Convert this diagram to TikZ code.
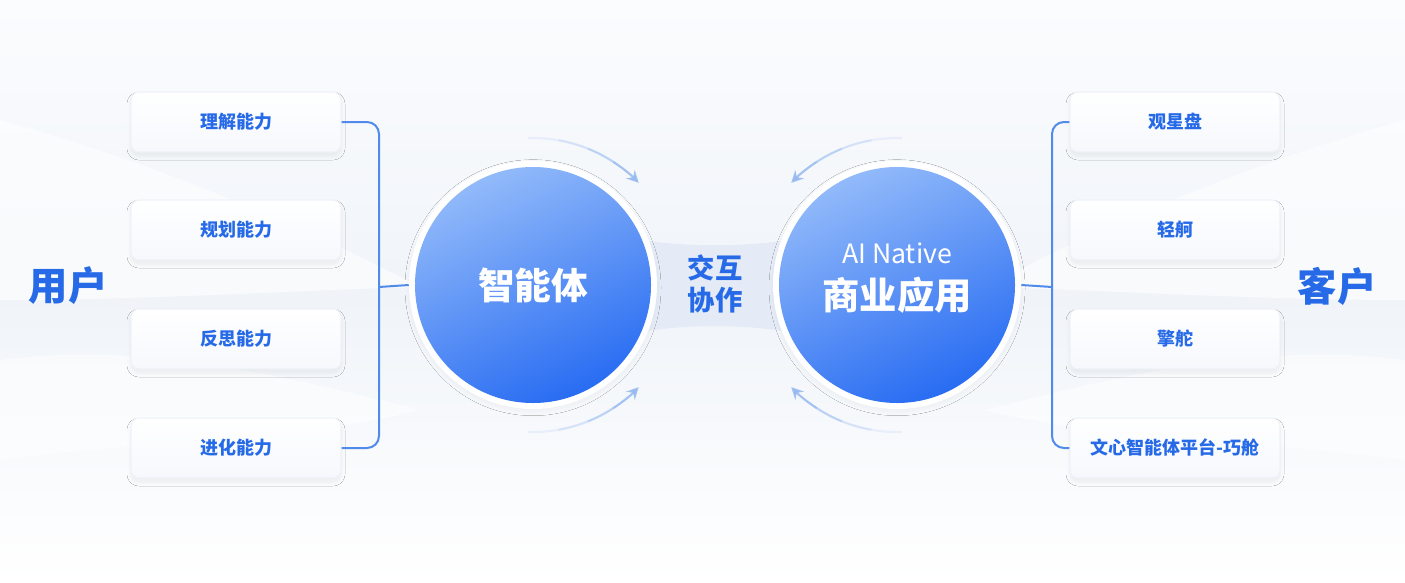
\documentclass[tikz,border=0pt]{standalone}
\usepackage{fontspec}
\newfontfamily\cjk{Noto Sans CJK SC}
\usetikzlibrary{arrows.meta,shadows.blur}

\definecolor{bgLight}{RGB}{251,252,254}
\definecolor{bgMid}{RGB}{240,244,249}
\definecolor{blueText}{RGB}{38,106,232}
\definecolor{bracketBlue}{RGB}{80,139,236}
\definecolor{orbTop}{RGB}{146,186,250}
\definecolor{orbBottom}{RGB}{40,108,242}
\definecolor{arcBlue}{RGB}{150,185,240}
\definecolor{bandGray}{RGB}{228,235,247}
\definecolor{boxBottom}{RGB}{246,248,253}
\definecolor{boxEdge}{RGB}{238,242,248}

\begin{document}
\begin{tikzpicture}[x=0.75pt,y=0.75pt,yscale=-1,xscale=1,
    capbox/.style={draw=boxEdge, line width=0.8, top color=white, bottom color=boxBottom,
        rounded corners=6, minimum width=157.5, minimum height=45,
        font=\cjk\bfseries\fontsize{13.5}{16}\selectfont, text=blueText,
        blur shadow={shadow blur steps=6, shadow opacity=6,
            shadow xshift=0pt, shadow yshift=-3pt, shadow blur radius=3pt}},
    sidelabel/.style={font=\cjk\bfseries\fontsize{29.5}{32}\selectfont, text=blueText},
    ring/.style={circle, fill=white, minimum size=186, inner sep=0,
        blur shadow={shadow blur steps=6, shadow opacity=4, shadow xshift=0pt,
            shadow yshift=-2pt, shadow blur radius=3pt}},
    orb/.style={circle, minimum size=177, inner sep=0, shading=axis,
        top color=orbTop, bottom color=orbBottom, shading angle=25,
        text=white, font=\cjk\bfseries\fontsize{27.5}{32}\selectfont},
    bracket/.style={draw=bracketBlue, line width=1.5, rounded corners=9},
    flowarc/.style={draw=arcBlue, line width=1.6},
    flowhead/.style={flowarc, -{Stealth[length=9,width=9,inset=3]}}
]

            \useasboundingbox (0,0) rectangle (1405,582);
            %Background
            \shade[top color=bgLight, bottom color=bgMid] (0,0) rectangle (1405,300);
            \shade[top color=bgMid, bottom color=white] (0,299) rectangle (1405,582);
            \fill[white, opacity=0.55] (0,120) .. controls (180,170) and (330,240) .. (420,287) .. controls (300,290) and (150,300) .. (0,300) -- cycle;
            \fill[white, opacity=0.55] (1405,120) .. controls (1225,170) and (1075,240) .. (985,287) .. controls (1105,290) and (1255,300) .. (1405,300) -- cycle;
            \fill[white, opacity=0.5] (0,360) .. controls (150,340) and (300,380) .. (420,410) .. controls (300,440) and (150,440) .. (0,460) -- cycle;
            \fill[white, opacity=0.5] (1405,360) .. controls (1255,340) and (1105,380) .. (985,410) .. controls (1105,440) and (1255,440) .. (1405,460) -- cycle;

            %Band between the circles
            \fill[bandGray] (640,240) .. controls (690,247) and (740,247) .. (790,240) -- (790,332) .. controls (740,324) and (690,324) .. (640,332) -- cycle;

            %Side labels
            \node[sidelabel] (user) at (68,286) {用户};
            \node[sidelabel] (client) at (1337,286) {客户};

            %Left boxes
            \node[capbox] (understand) at (236,122) {理解能力};
            \node[capbox] (plan) at (236,230) {规划能力};
            \node[capbox] (reflect) at (236,339) {反思能力};
            \node[capbox] (evolve) at (236,448) {进化能力};

            %Right boxes
            \node[capbox] (stargaze) at (1175,122) {观星盘};
            \node[capbox] (skiff) at (1175,230) {轻舸};
            \node[capbox] (helm) at (1175,339) {擎舵};
            \node[capbox] (cabin) at (1175,448) {文心智能体平台-巧舱};

            %Circles
            \node[ring] (agentring) at (533,285) {};
            \node[orb] (agent) at (533,285) {智能体};
            \node[ring] (appring) at (897,285) {};
            \node[orb] (app) at (897,285) {};
            \node[text=white, align=center, font=\cjk\bfseries\fontsize{28}{36}\selectfont] (apptext) at (897,278)
                {{\mdseries\fontsize{20}{24}\selectfont AI Native}\\[-2pt]商业应用};

            %Center label
            \node[text=blueText, align=center, font=\cjk\bfseries\fontsize{20.5}{24}\selectfont] (interact) at (715,284) {交互\\协作};

            %Brackets
            \coordinate (ljoin) at (379,287);
            \coordinate (rjoin) at (1052,287);
            \draw[bracket] (understand.east) -| (ljoin) |- (evolve.east);
            \draw[bracket, rounded corners=0] (ljoin) -- (agentring.west);
            \draw[bracket] (stargaze.west) -| (rjoin) |- (cabin.west);
            \draw[bracket, rounded corners=0] (rjoin) -- (appring.east);

            %Curved arrows, fading in towards the head
            \foreach \s/\e/\op in {92/80/0.15, 80/68/0.35, 68/57/0.6}{
                \draw[flowarc, opacity=\op] ([shift={(-\s:147)}]agent.center) arc (-\s:-\e:147);
                \draw[flowarc, opacity=\op] ([shift={(\s:147)}]agent.center) arc (\s:\e:147);
                \draw[flowarc, opacity=\op] ([shift={(180+\s:147)}]app.center) arc (180+\s:180+\e:147);
                \draw[flowarc, opacity=\op] ([shift={(180-\s:147)}]app.center) arc (180-\s:180-\e:147);
            }
            \draw[flowhead, opacity=0.85] ([shift={(-57:147)}]agent.center) arc (-57:-44:147);
            \draw[flowhead, opacity=0.85] ([shift={(57:147)}]agent.center) arc (57:44:147);
            \draw[flowhead, opacity=0.85] ([shift={(-123:147)}]app.center) arc (-123:-136:147);
            \draw[flowhead, opacity=0.85] ([shift={(123:147)}]app.center) arc (123:136:147);

\end{tikzpicture}
\end{document}
